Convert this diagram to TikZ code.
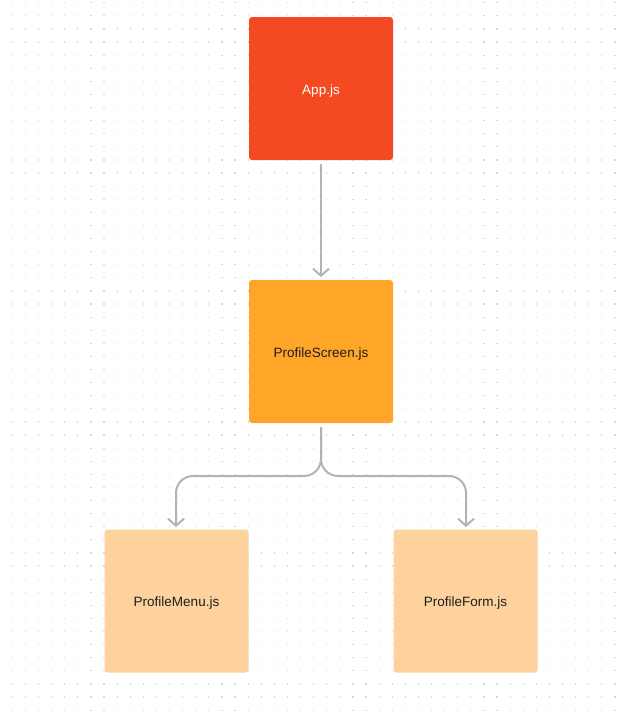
\documentclass[tikz,border=0pt]{standalone}
\usepackage{fontspec}
\setmainfont{Liberation Sans}
\usetikzlibrary{arrows.meta}
\definecolor{appc}{HTML}{F44A22}
\definecolor{scrc}{HTML}{FFA629}
\definecolor{subc}{HTML}{FDD29C}
\definecolor{linec}{HTML}{B3B3B3}
\definecolor{dotc}{HTML}{D8D8D8}
\definecolor{txtc}{HTML}{1E1E1E}
\tikzset{
  filebox/.style={rounded corners=3pt, minimum width=144pt, minimum height=143pt, inner sep=0pt, text height=14pt, text depth=3pt, font=\fontsize{13.5}{15}\selectfont, text=txtc},
  link/.style={draw=linec, line width=2pt, -{Straight Barb[length=7pt,width=16pt,line width=2pt]}},
}
\begin{document}
\begin{tikzpicture}[x=1pt,y=-1pt]
\useasboundingbox (0,0) rectangle (625,713);
\fill[white] (0,0) rectangle (625,713);
\foreach \i in {0,...,47} {
  \foreach \j in {0,...,54} {
    \fill[dotc] ({12.3+13.1*\i-0.6},{2.7+13.1*\j-0.6}) rectangle ++(1.2,1.2);
  }
}
\node[filebox, fill=appc, text=white] (app) at (321,88.5) {App.js};
\node[filebox, fill=scrc] (scr) at (321,351.5) {ProfileScreen.js};
\node[filebox, fill=subc] (menu) at (176.5,601) {ProfileMenu.js};
\node[filebox, fill=subc] (form) at (465.5,601) {ProfileForm.js};
\coordinate (t1) at (321,164);
\coordinate (t2) at (321,277);
\draw[link] (t1) -- (t2);
\coordinate (s) at (321,427);
\coordinate (ml) at (176,527);
\coordinate (mr) at (466,527);
\draw[link, rounded corners=17pt] (s) -- (321,476) -- (176,476) -- (ml);
\draw[link, rounded corners=17pt] (s) -- (321,476) -- (466,476) -- (mr);
\end{tikzpicture}
\end{document}
